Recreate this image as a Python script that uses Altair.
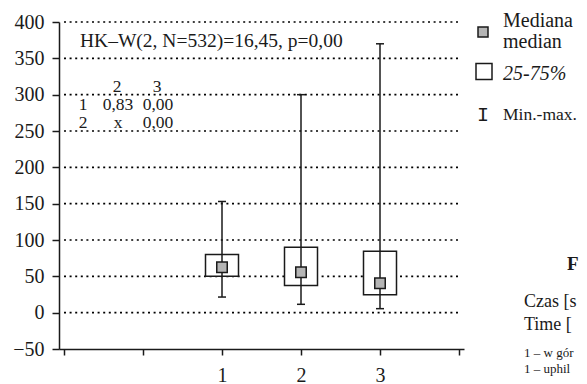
import altair as alt
import pandas as pd

# ---- data ----
groups = ["1", "2", "3"]
positions = [2, 3, 4]
q25 = [50, 37.5, 24.5]
q75 = [80, 90, 84.5]
medians = [62.5, 55.5, 40.5]
mins = [21.5, 11.5, 5.5]
maxs = [153, 300, 370]

y_ticks = list(range(-50, 401, 50))
grid_values = list(range(0, 401, 50))
x_ticks = [0, 1, 2, 3, 4, 5]

stat_text = "HK\u2013W(2, N=532)=16,45, p=0,00"
mat_header = ["2", "3"]
mat_row1 = ["1", "0,83", "0,00"]
mat_row2 = ["2", "x", "0,00"]

legend_labels = ["Mediana", "median", "25-75%", "Min.-max."]
# visible (page-cropped) fragments of the caption at the right edge
side_texts = ["F", "Czas [s", "Time [", "1 \u2013 w gór", "1 \u2013 uphil"]

df = pd.DataFrame({
    "group": groups, "pos": positions, "q25": q25, "q75": q75,
    "median": medians, "min": mins, "max": maxs,
})
grid_df = pd.DataFrame({"v": grid_values, "lo": [0] * len(grid_values), "hi": [5] * len(grid_values)})

FONT = "'Liberation Serif', 'Times New Roman', Times, serif"
INK = "#1a1a1a"

xs = alt.Scale(domain=[0, 5], nice=False, zero=False)
ys = alt.Scale(domain=[-50, 400], nice=False, zero=False)

x_axis = alt.Axis(values=x_ticks, grid=False, title=None,
                  labelExpr="datum.value >= 2 && datum.value <= 4 ? '' + (datum.value - 1) : ''",
                  tickSize=6, tickWidth=1.5, tickColor=INK,
                  domainColor=INK, domainWidth=1.5,
                  labelFont=FONT, labelFontSize=20, labelColor=INK, labelPadding=10)
y_axis = alt.Axis(values=y_ticks, grid=False, title=None,
                  labelExpr="datum.value < 0 ? '\u2212' + abs(datum.value) : datum.label",
                  tickSize=7, tickWidth=1.5, tickColor=INK,
                  domainColor=INK, domainWidth=1.5,
                  labelFont=FONT, labelFontSize=20, labelColor=INK, labelPadding=8)

X = alt.X("pos:Q", scale=xs, axis=x_axis)

def Y(field):
    return alt.Y(f"{field}:Q", scale=ys, axis=y_axis)

base = alt.Chart(df)

grid = alt.Chart(grid_df).mark_rule(color="black", strokeWidth=1.6, strokeDash=[2, 3.6]).encode(
    y=alt.Y("v:Q", scale=ys, axis=y_axis),
    x=alt.X("lo:Q", scale=xs, axis=x_axis), x2="hi:Q")
boxes = base.mark_bar(size=33, fill="white", stroke=INK, strokeWidth=1.5, opacity=1).encode(
    x=X, y=Y("q25"), y2="q75:Q")
whisk = base.mark_rule(color=INK, strokeWidth=1.5).encode(x=X, y=Y("min"), y2="max:Q")
cap_hi = base.mark_tick(orient="horizontal", size=8, thickness=1.5, color=INK, opacity=1).encode(
    x=X, y=Y("max"))
cap_lo = base.mark_tick(orient="horizontal", size=8, thickness=1.5, color=INK, opacity=1).encode(
    x=X, y=Y("min"))
med = base.mark_square(size=110, fill="#b5b5b5", stroke=INK, strokeWidth=1.5, opacity=1).encode(
    x=X, y=Y("median"))


def txt(s, x, y, size=19, align="left", weight="normal", style="normal", font=FONT):
    return alt.Chart(pd.DataFrame({"t": [s]})).mark_text(
        align=align, baseline="alphabetic", font=font, fontSize=size,
        fontWeight=weight, fontStyle=style, color=INK).encode(
        text="t:N", x=alt.value(x), y=alt.value(y))


layers = [grid, boxes, whisk, cap_hi, cap_lo, med]

# annotation inside plot
layers.append(txt(stat_text, 21, 25, size=19.5))
for s, cx in zip(mat_header, [58, 98]):
    layers.append(txt(s, cx, 70, size=17.5, align="center"))
for s, cx in zip(mat_row1, [24, 59, 99]):
    layers.append(txt(s, cx, 88, size=17.5, align="center"))
for s, cx in zip(mat_row2, [24, 59, 99]):
    layers.append(txt(s, cx, 106, size=17.5, align="center"))

# legend
one = pd.DataFrame({"a": [0]})
layers.append(alt.Chart(one).mark_square(size=100, fill="#b5b5b5", stroke=INK, strokeWidth=1.5, opacity=1)
              .encode(x=alt.value(424), y=alt.value(10)))
layers.append(alt.Chart(one).mark_square(size=256, fill="white", stroke=INK, strokeWidth=1.5, opacity=1)
              .encode(x=alt.value(425), y=alt.value(49.5)))
layers.append(txt("I", 424, 99, size=20, align="center", font="'Liberation Mono', 'DejaVu Sans Mono', monospace"))
layers.append(txt(legend_labels[0], 444, 5, size=20))
layers.append(txt(legend_labels[1], 444, 26, size=20))
layers.append(txt(legend_labels[2], 444, 58, size=20, style="italic"))
layers.append(txt(legend_labels[3], 444, 98, size=17.5))

# side texts (fragments cut by the page edge in the reference)
layers.append(txt(side_texts[0], 508, 248, size=19, weight="bold"))
layers.append(txt(side_texts[1], 465, 285, size=18))
layers.append(txt(side_texts[2], 465, 308, size=18))
layers.append(txt(side_texts[3], 465, 335, size=13))
layers.append(txt(side_texts[4], 465, 351, size=13))

chart = alt.layer(*layers).properties(
    width=405, height=327,
    autosize=alt.AutoSizeParams(type="none"),
    padding={"left": 51, "top": 14, "right": 115, "bottom": 35},
    background="white",
).configure_view(stroke=None)

chart.save("out.html", embed_options={"renderer": "svg", "actions": False})
